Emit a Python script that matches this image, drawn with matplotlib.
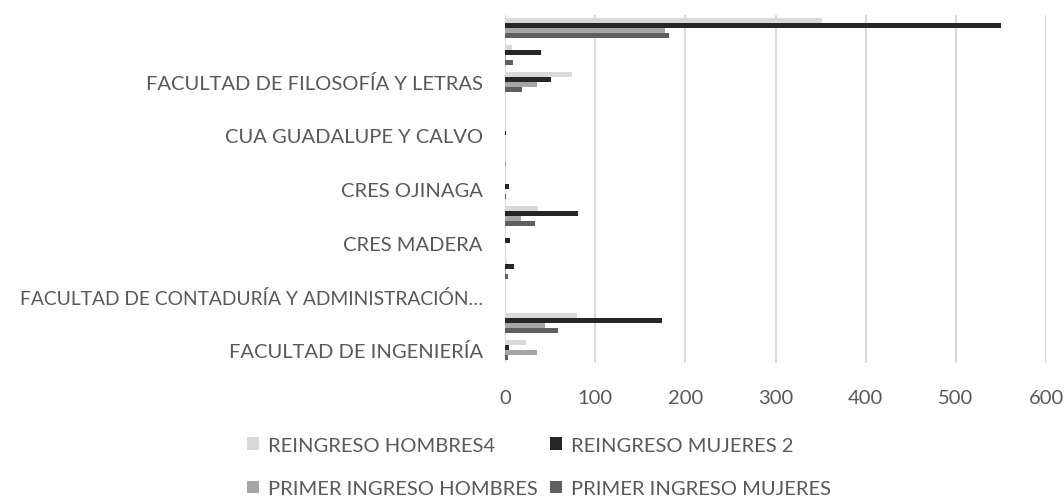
import matplotlib
matplotlib.use("Agg")
import matplotlib.pyplot as plt
import numpy as np

# categories bottom -> top (Excel hides every other label)
CATEGORIES = ["FACULTAD DE INGENIERÍA", "",
              "FACULTAD DE CONTADURÍA Y ADMINISTRACIÓN…", "",
              "CRES MADERA", "",
              "CRES OJINAGA", "",
              "CUA GUADALUPE Y CALVO", "",
              "FACULTAD DE FILOSOFÍA Y LETRAS", "", ""]

reingreso_hombres = [23, 80, 0, 2, 1, 37, 0, 1, 0, 1, 74, 8, 352]
reingreso_mujeres = [4, 174, 0, 10, 5, 81, 4, 0, 1, 0, 51, 40, 550]
primer_hombres = [35, 44, 0, 1, 0, 18, 0, 1, 0, 0, 36, 1, 178]
primer_mujeres = [3, 59, 0, 3, 0, 33, 1, 0, 0, 0, 19, 9, 182]

SERIES = [
    ("REINGRESO HOMBRES4", reingreso_hombres, "#d9d9d9"),
    ("REINGRESO MUJERES 2", reingreso_mujeres, "#262626"),
    ("PRIMER INGRESO HOMBRES", primer_hombres, "#a6a6a6"),
    ("PRIMER INGRESO MUJERES", primer_mujeres, "#5f5f5f"),
]

TXT = "#595959"
FS = 14.5
plt.rcParams["font.family"] = ["Lato", "DejaVu Sans"]

fig = plt.figure(figsize=(10.64, 5.02), dpi=100)
ax = fig.add_axes([505 / 1064, 1 - 364 / 502, 541 / 1064, 348 / 502])

y = np.arange(len(CATEGORIES))
h = 0.185
offsets = [1.5 * h, 0.5 * h, -0.5 * h, -1.5 * h]
handles = []
for (name, vals, col), off in zip(SERIES, offsets):
    b = ax.barh(y + off, vals, h, color=col, label=name, zorder=3)
    handles.append(b)

ax.set_xlim(0, 600)
ax.set_ylim(-0.5, len(CATEGORIES) - 0.5)
ax.set_xticks(np.arange(0, 601, 100))
ax.set_yticks(y)
ax.set_yticklabels(CATEGORIES)
ax.tick_params(axis="both", length=0, labelsize=FS, labelcolor=TXT)
ax.tick_params(axis="y", pad=16)
ax.tick_params(axis="x", pad=19)
# the long truncated label is a touch too wide in this font
for lab in ax.get_yticklabels():
    if lab.get_text().endswith("…"):
        lab.set_fontsize(13.9)
ax.grid(axis="x", color="#d9d9d9", lw=1.5, zorder=0)
for s in ax.spines.values():
    s.set_visible(False)

# legend: 2x2 grid, filled row-wise like Excel
order = [0, 2, 1, 3]
fig.legend([handles[i] for i in order], [SERIES[i][0] for i in order],
           ncol=2, loc="center left", bbox_to_anchor=(247 / 1064, 1 - 468 / 502),
           frameon=False, fontsize=FS, labelcolor=TXT, handlelength=0.6,
           handleheight=0.6, handletextpad=0.45, columnspacing=0.6,
           labelspacing=1.3, borderpad=0, borderaxespad=0)

fig.savefig("out.png", dpi=100)
